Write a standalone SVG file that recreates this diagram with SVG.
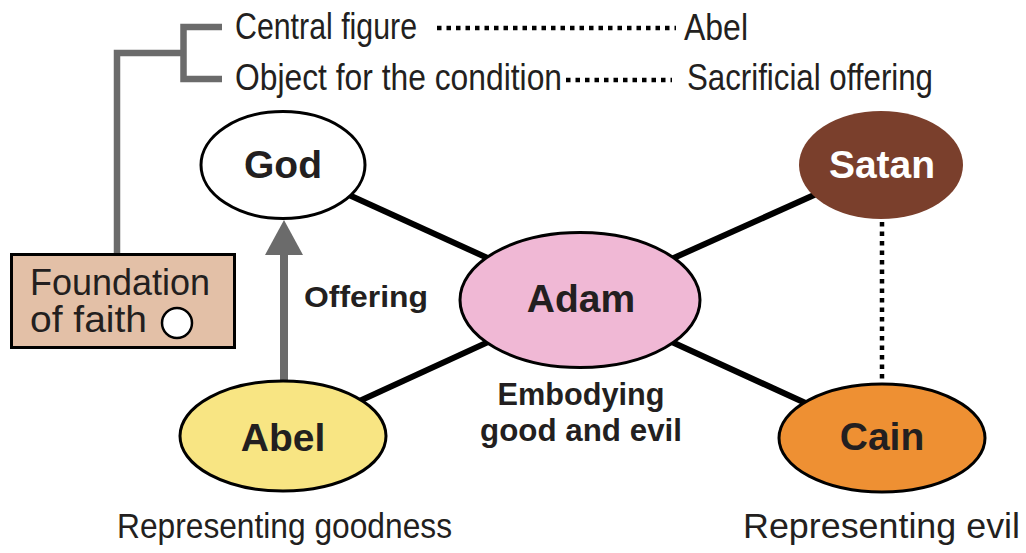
<svg xmlns="http://www.w3.org/2000/svg" width="1026" height="553" viewBox="0 0 1026 553">
<style>
.lbl{font-family:"Liberation Sans",Arial,sans-serif;fill:#231f20}
.node{font-family:"Liberation Sans",Arial,sans-serif;font-weight:bold;font-size:39px;fill:#231f20;text-anchor:middle}
.bold{font-family:"Liberation Sans",Arial,sans-serif;font-weight:bold;fill:#231f20}
.ell{stroke:#000;stroke-width:3}
.link{stroke:#000;stroke-width:6;fill:none}
.dots{stroke:#000;stroke-width:4.5;stroke-dasharray:4.5 5;fill:none}
.gray{stroke:#6b6b6b;stroke-width:6.5;fill:none}
</style>
<rect width="1026" height="553" fill="#fff"/>
<g id="connectors">
<line class="link" x1="283" y1="165" x2="580" y2="300"/>
<line class="link" x1="881" y1="165" x2="580" y2="300"/>
<line class="link" x1="283" y1="436" x2="580" y2="300"/>
<line class="link" x1="882" y1="438" x2="580" y2="300"/>
<line class="dots" x1="882" y1="222" x2="882" y2="382"/>
<line x1="284" y1="381" x2="284" y2="250" stroke="#6b6b6b" stroke-width="8"/>
<polygon points="284,220 265,255 303,255" fill="#6b6b6b"/>
<polyline class="gray" points="222,27 183.5,27 183.5,79 222,79"/>
<polyline class="gray" points="183.5,53 117,53 117,253"/>
<line class="dots" x1="437" y1="28" x2="676" y2="28"/>
<line class="dots" x1="566" y1="80" x2="672" y2="80"/>
</g>
<g id="god">
<ellipse class="ell" cx="283" cy="165" rx="82" ry="53.5" fill="#fff"/>
<text class="node" x="283" y="178">God</text>
</g>
<g id="satan">
<ellipse cx="881" cy="165" rx="82" ry="54" fill="#7a3f2c"/>
<text class="node" x="882" y="178" style="fill:#fff">Satan</text>
</g>
<g id="adam">
<ellipse class="ell" cx="580" cy="300" rx="120" ry="67.5" fill="#f0b8d5"/>
<text class="node" x="581" y="312">Adam</text>
</g>
<g id="abel">
<ellipse class="ell" cx="283" cy="436" rx="103" ry="55" fill="#f8e583"/>
<text class="node" x="283" y="451">Abel</text>
</g>
<g id="cain">
<ellipse class="ell" cx="882" cy="438" rx="103" ry="54" fill="#ee9033"/>
<text class="node" x="882" y="450">Cain</text>
</g>
<g id="foundation">
<rect x="11.5" y="254.5" width="223" height="93" fill="#e3c0a7" stroke="#000" stroke-width="3"/>
<text class="lbl" x="30" y="295" font-size="37" textLength="180" lengthAdjust="spacingAndGlyphs">Foundation</text>
<text class="lbl" x="30" y="332" font-size="37" textLength="117" lengthAdjust="spacingAndGlyphs">of faith</text>
<circle cx="177" cy="323" r="15" fill="#fff" stroke="#000" stroke-width="2.5"/>
</g>
<g id="labels">
<text class="bold" x="304" y="307" font-size="30" textLength="124" lengthAdjust="spacingAndGlyphs">Offering</text>
<text class="bold" x="581" y="405" font-size="31" text-anchor="middle" textLength="167" lengthAdjust="spacingAndGlyphs">Embodying</text>
<text class="bold" x="581" y="441" font-size="31" text-anchor="middle" textLength="202" lengthAdjust="spacingAndGlyphs">good and evil</text>
<text class="lbl" x="235" y="39" font-size="37" textLength="182" lengthAdjust="spacingAndGlyphs">Central figure</text>
<text class="lbl" x="684" y="40" font-size="37" textLength="64" lengthAdjust="spacingAndGlyphs">Abel</text>
<text class="lbl" x="235" y="90" font-size="37" textLength="327" lengthAdjust="spacingAndGlyphs">Object for the condition</text>
<text class="lbl" x="687" y="90" font-size="37" textLength="246" lengthAdjust="spacingAndGlyphs">Sacrificial offering</text>
<text class="lbl" x="117" y="538" font-size="35" textLength="335" lengthAdjust="spacingAndGlyphs">Representing goodness</text>
<text class="lbl" x="743" y="538" font-size="35" textLength="277" lengthAdjust="spacingAndGlyphs">Representing evil</text>
</g>
</svg>
